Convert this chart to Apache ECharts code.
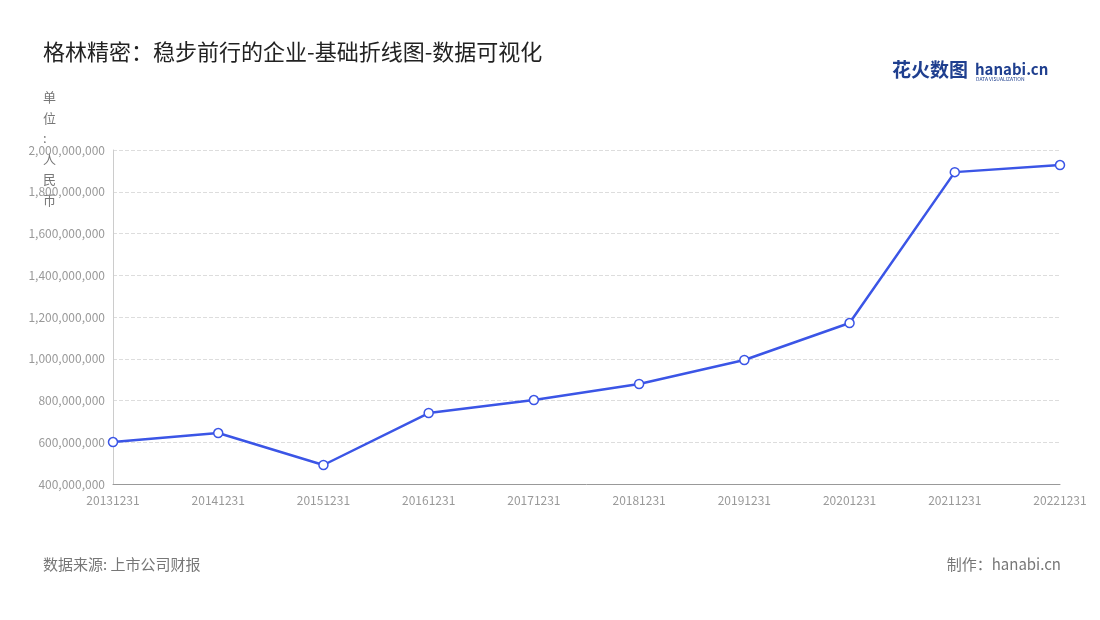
<!DOCTYPE html>
<html>
<head>
<meta charset="utf-8">
<script src="https://cdn.jsdelivr.net/npm/echarts@6/dist/echarts.min.js"></script>
<style>html,body{margin:0;padding:0;background:#fff}#chart{width:1100px;height:620px}</style>
</head>
<body>
<div id="chart"></div>
<script>
var categories = ['20131231','20141231','20151231','20161231','20171231','20181231','20191231','20201231','20211231','20221231'];
var revenue = [601000000, 644000000, 491000000, 740000000, 802000000, 879000000, 994000000, 1171000000, 1894000000, 1928000000];

var font = '"Noto Sans CJK SC", "Noto Sans", sans-serif';
var myChart = echarts.init(document.getElementById('chart'));
var option = {
    textStyle: { fontFamily: font },
    title: {
        text: '格林精密：稳步前行的企业-基础折线图-数据可视化',
        left: 38,
        top: 36,
        textStyle: { fontSize: 22, fontWeight: 'normal', color: '#222', fontFamily: font }
    },
    graphic: [
        { type: 'text', left: 892, top: 60, style: { text: '花火数图', font: 'bold 19px ' + font, fill: '#1f3f8f' } },
        { type: 'text', left: 975, top: 62, style: { text: 'hanabi.cn', font: 'bold 15px ' + font, fill: '#1f3f8f' } },
        { type: 'text', left: 976, top: 77, style: { text: 'DATA VISUALIZATION', font: '5px ' + font, fill: '#1f3f8f' } },
        { type: 'text', left: 43, top: 87, style: { text: '单\n位\n:\n人\n民\n币', font: '13px ' + font, fill: '#777', lineHeight: 20.5 } },
        { type: 'text', left: 43, top: 557, style: { text: '数据来源: 上市公司财报', font: '15px ' + font, fill: '#777' } },
        { type: 'text', right: 39, top: 557, style: { text: '制作：hanabi.cn', font: '15px ' + font, fill: '#777' } }
    ],
    grid: { left: 113, right: 40, top: 150, bottom: 136 },
    xAxis: {
        type: 'category',
        boundaryGap: false,
        data: categories,
        axisLine: { lineStyle: { color: '#999' } },
        axisTick: { show: false },
        axisLabel: { color: '#999', fontSize: 12, margin: 10 }
    },
    yAxis: {
        type: 'value',
        min: 400000000,
        max: 2000000000,
        interval: 200000000,
        axisLine: { show: true, lineStyle: { color: '#ccc' } },
        axisLabel: {
            color: '#999', fontSize: 12,
            formatter: function (v) { return v.toLocaleString('en-US'); }
        },
        splitLine: { lineStyle: { type: 'dashed', color: '#ddd' } }
    },
    series: [{
        type: 'line',
        data: revenue,
        symbol: 'circle',
        symbolSize: 9,
        lineStyle: { color: '#3b55e6', width: 2.5 },
        itemStyle: { color: '#fff', borderColor: '#3b55e6', borderWidth: 1.5 }
    }]
};
myChart.setOption(option);
</script>
</body>
</html>
